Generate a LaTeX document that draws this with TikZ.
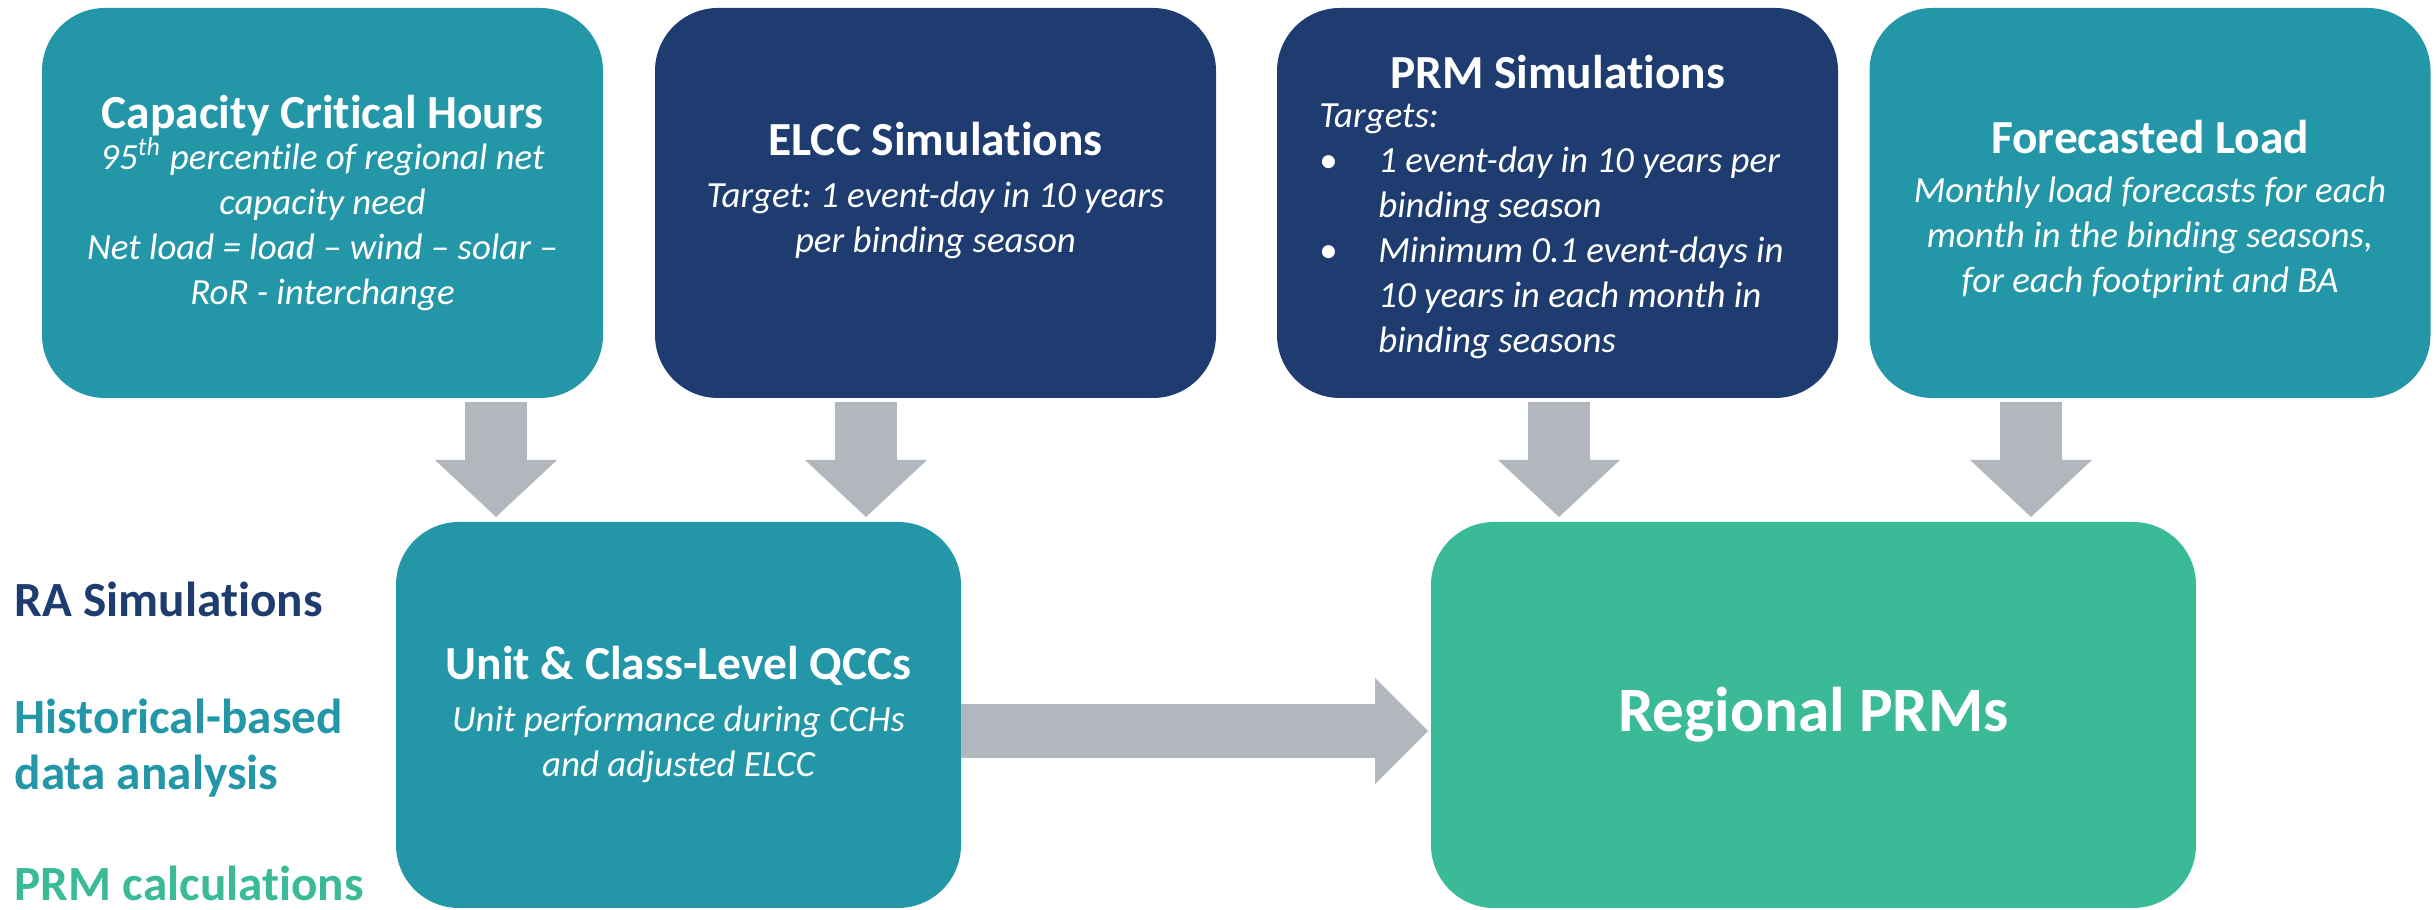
\documentclass[tikz,border=0pt]{standalone}
\usepackage{fontspec}
\setmainfont{Carlito}[Ligatures=NoCommon]
\usepackage{xcolor}
\usepackage{tikz}
\usetikzlibrary{arrows.meta}

\definecolor{tealbox}{HTML}{2397A8}
\definecolor{navybox}{HTML}{1E3C70}
\definecolor{greenbox}{HTML}{3ABA96}
\definecolor{arrowgray}{HTML}{B2B7BD}

\newcommand{\boxtitle}[1]{{\fontsize{13.5}{12.8}\selectfont\bfseries\upshape #1}}
\frenchspacing

\tikzset{
	block/.style={rounded corners=0.63cm, inner sep=0pt, outer sep=0pt, text=white, align=center,
		font=\fontsize{10.5}{12.8}\selectfont\itshape},
	topblock/.style={block, minimum width=5.61cm, minimum height=3.90cm},
	lowblock/.style={block, minimum height=3.86cm},
	fatdown/.style={draw=arrowgray, line width=0.62cm, shorten <=0.04cm, shorten >=0.05cm,
		-{Triangle[width=1.22cm,length=0.57cm,line width=0pt]}},
	fatright/.style={draw=arrowgray, line width=0.54cm, shorten >=0.03cm,
		-{Triangle[width=1.06cm,length=0.53cm,line width=0pt]}},
	sidelabel/.style={anchor=base west, align=left, inner sep=0pt, font=\fontsize{14}{16.2}\selectfont\bfseries}
}

\begin{document}
\begin{tikzpicture}
	\useasboundingbox (0,0) rectangle (24.36,9.10);
	% input blocks
	\node[topblock, fill=tealbox] (cch) at (3.225,7.07) {\boxtitle{Capacity Critical Hours}\\[-1pt]
		95\textsuperscript{th} percentile of regional net\\
		capacity need\\
		Net load = load – wind – solar –\\
		RoR - interchange};
	\node[topblock, fill=navybox] (elcc) at (9.355,7.07) {\boxtitle{ELCC Simulations}\\[2pt]
		Target: 1 event-day in 10 years\\
		per binding season\rule[-9pt]{0pt}{0pt}};
	\node[topblock, fill=navybox] (prmsim) at (15.575,7.07) {\rule{0pt}{14pt}\boxtitle{PRM Simulations}\\[1pt]
		\begin{tabular}{@{}p{0.59cm}@{}l@{\hspace{0.12cm}}}
			\multicolumn{2}{@{}l@{\hspace{0.12cm}}}{Targets:}\\
			{\upshape\textbullet} & 1 event-day in 10 years per\\
			& binding season\\
			{\upshape\textbullet} & Minimum 0.1 event-days in\\
			& 10 years in each month in\\
			& binding seasons
		\end{tabular}};
	\node[topblock, fill=tealbox] (load) at (21.50,7.07) {\rule{0pt}{13pt}\boxtitle{Forecasted Load}\\[1pt]
		Monthly load forecasts for each\\
		month in the binding seasons,\\
		for each footprint and BA};
	% results
	\node[lowblock, fill=tealbox, minimum width=5.65cm] (qcc) at (6.785,1.95) {\boxtitle{Unit \& Class-Level QCCs}\\[2pt]
		Unit performance during CCHs\\
		and adjusted ELCC};
	\node[lowblock, fill=greenbox, minimum width=7.65cm] (prm) at (18.135,1.95)
		{\fontsize{18}{20}\selectfont\bfseries\upshape Regional PRMs};
	% legend
	\node[sidelabel, text=navybox] (ralbl) at (0.14,2.93) {RA Simulations};
	\node[sidelabel, text=tealbox] (histlbl) at (0.14,1.20) {Historical-based\\data analysis};
	\node[sidelabel, text=greenbox] (prmlbl) at (0.14,0.09) {PRM calculations};
	% arrows
	\coordinate (a1) at (4.96,0);
	\coordinate (a2) at (8.66,0);
	\coordinate (a3) at (15.59,0);
	\coordinate (a4) at (20.31,0);
	\coordinate (hr) at (0,1.79);
	\draw[fatdown] (cch.south -| a1) to (qcc.north -| a1);
	\draw[fatdown] (elcc.south -| a2) to (qcc.north -| a2);
	\draw[fatdown] (prmsim.south -| a3) to (prm.north -| a3);
	\draw[fatdown] (load.south -| a4) to (prm.north -| a4);
	\draw[fatright] (qcc.east |- hr) to (prm.west |- hr);
\end{tikzpicture}
\end{document}
